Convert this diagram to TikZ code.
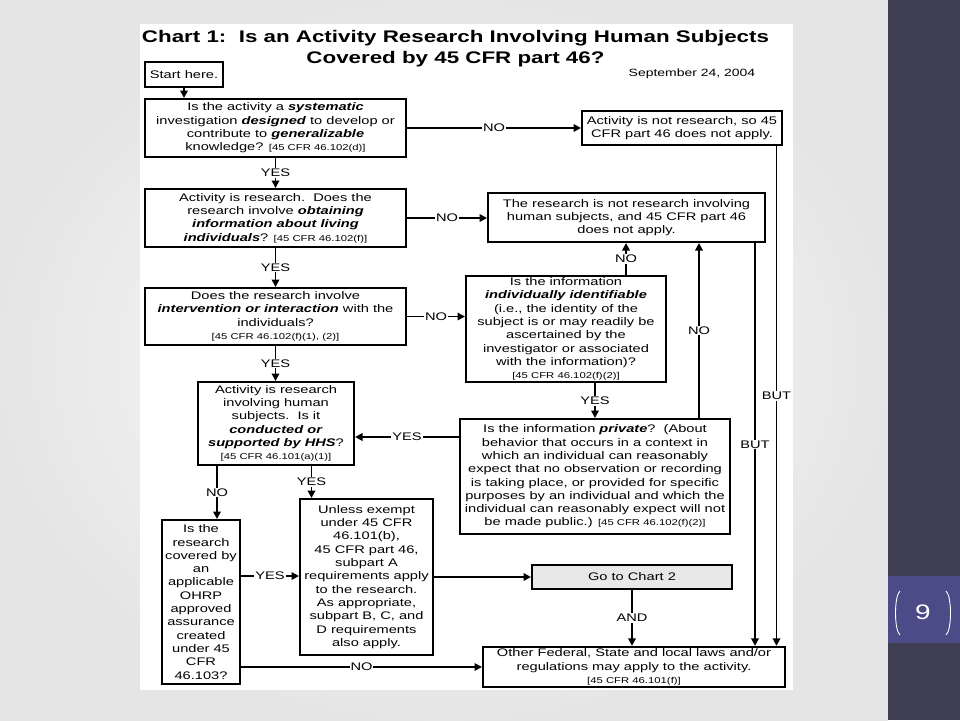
\documentclass[tikz,border=0pt]{standalone}
\usepackage{fontspec}
\setmainfont{Liberation Sans}[FakeStretch=1.33]
\usetikzlibrary{arrows.meta}
\newcommand{\emphb}[1]{\textbf{\textit{#1}}}
\newcommand{\cfr}[1]{{\fontsize{8.5}{10}\selectfont[#1]}}
\definecolor{sidedark}{HTML}{3E3D51}
\definecolor{sideblue}{HTML}{4B4B88}

\begin{document}
\begin{tikzpicture}[x=1pt,y=-1pt,
  box/.style={draw, line width=2pt, align=center, inner sep=2pt,
    font=\fontsize{11}{13.3}\selectfont},
  lab/.style={fill=white, inner sep=1pt, font=\fontsize{11}{13}\selectfont},
  arr/.style={line width=1.8pt, -{Triangle[length=7.5pt,width=7.5pt]}}]
  \useasboundingbox (0,0) rectangle (960,720);

  % Slide background and side bar
  \shade[inner color=white, outer color=gray!20] (0,0) rectangle (888,720);
  \fill[sidedark] (888,0) rectangle (960,720);
  \fill[sideblue] (888,576) rectangle (960,643);
  \draw[white, line width=0.9pt] (900,591) .. controls (894,596) and (894,630) .. (900,635);
  \draw[white, line width=0.9pt] (946,591) .. controls (952,596) and (952,630) .. (946,635);
  \node[text=white, font=\fontsize{21}{24}\selectfont] (page) at (923,612) {9};

  % Chart sheet
  \fill[white] (140,24) rectangle (793,690);
  \node[font=\fontsize{16.8}{20.5}\selectfont\bfseries, align=center] (title) at (455.5,48.5)
    {Chart 1:\ \ Is an Activity Research Involving Human Subjects\\Covered by 45 CFR part 46?};
  \node[font=\fontsize{10.5}{12}\selectfont] (date) at (692,73.5) {September 24, 2004};

  % Boxes
  \node[box, minimum width=78pt, minimum height=25pt] (start) at (184,74.5) {Start here.};
  \node[box, minimum width=261pt, minimum height=58pt] (q1) at (275.5,128)
    {Is the activity a \emphb{systematic}\\investigation \emphb{designed} to develop or\\
     contribute to \emphb{generalizable}\\knowledge? \cfr{45 CFR 46.102(d)}};
  \node[box, minimum width=200pt, minimum height=34pt] (notres) at (682,128)
    {Activity is not research, so 45\\CFR part 46 does not apply.};
  \node[box, minimum width=261pt, minimum height=58pt] (q2) at (275.5,218)
    {Activity is research.\ \ Does the\\research involve \emphb{obtaining}\\
     \emphb{information about living}\\\emphb{individuals}? \cfr{45 CFR 46.102(f)}};
  \node[box, minimum width=277pt, minimum height=49pt] (noths) at (626.5,217.5)
    {The research is not research involving\\human subjects, and 45 CFR part 46\\does not apply.};
  \node[box, minimum width=261pt, minimum height=57pt] (q3) at (275.5,316.5)
    {Does the research involve\\\emphb{intervention or interaction} with the\\individuals?\\
     \cfr{45 CFR 46.102(f)(1), (2)}};
  \node[box, minimum width=200pt, minimum height=106pt] (ident) at (566,329)
    {Is the information\\\emphb{individually identifiable}\\(i.e., the identity of the\\
     subject is or may readily be\\ascertained by the\\investigator or associated\\
     with the information)?\\\cfr{45 CFR 46.102(f)(2)}};
  \node[box, minimum width=156pt, minimum height=83pt] (hhs) at (276,423.5)
    {Activity is research\\involving human\\subjects.\ \ Is it\\\emphb{conducted or}\\
     \emphb{supported by HHS}?\\\cfr{45 CFR 46.101(a)(1)}};
  \node[box, minimum width=270pt, minimum height=115pt] (priv) at (595,476.5)
    {Is the information \emphb{private}?\ \ (About\\behavior that occurs in a context in\\
     which an individual can reasonably\\expect that no observation or recording\\
     is taking place, or provided for specific\\purposes by an individual and which the\\
     individual can reasonably expect will not\\be made public.) \cfr{45 CFR 46.102(f)(2)}};
  \node[box, minimum width=78pt, minimum height=164pt] (ohrp) at (201,602)
    {Is the\\research\\covered by\\an\\applicable\\OHRP\\approved\\assurance\\created\\
     under 45\\CFR\\46.103?};
  \node[box, minimum width=133pt, minimum height=156pt] (unless) at (366.5,577)
    {Unless exempt\\under 45 CFR\\46.101(b),\\45 CFR part 46,\\subpart A\\
     requirements apply\\to the research.\\As appropriate,\\subpart B, C, and\\
     D requirements\\also apply.};
  \node[box, fill=gray!18, minimum width=200pt, minimum height=24pt] (chart2) at (632,577)
    {Go to Chart 2};
  \node[box, minimum width=302pt, minimum height=40pt] (other) at (634,667)
    {Other Federal, State and local laws and/or\\regulations may apply to the activity.\\
     \cfr{45 CFR 46.101(f)}};

  % Main YES path
  \draw[arr] (start.south) -- (start.south |- q1.north);
  \draw[arr] (q1.south) -- node[lab] {YES} (q2.north);
  \draw[arr] (q2.south) -- node[lab] {YES} (q3.north);
  \draw[arr] (q3.south) -- node[lab] {YES} (q3.south |- hhs.north);

  % NO branches to the right
  \draw[arr] (q1.east) -- node[lab] {NO} (q1.east -| notres.west);
  \draw[arr] (q2.east) -- node[lab] {NO} (q2.east -| noths.west);
  \draw[arr] (q3.east) -- node[lab] {NO} (q3.east -| ident.west);
  \draw[arr] ([xshift=60pt]ident.north) -- node[lab] {NO} ([xshift=60pt]ident.north |- noths.south);
  \draw[arr] (ident.south -| priv.north) -- node[lab] {YES} (priv.north);
  \draw[arr] ([xshift=104pt]priv.north) -- node[lab] {NO} ([xshift=104pt]priv.north |- noths.south);
  \draw[arr] ([yshift=39.5pt]priv.west) -- node[lab] {YES} ([yshift=39.5pt]priv.west -| hhs.east);

  % Lower part
  \draw[arr] ([xshift=-59pt]hhs.south) -- node[lab] {NO} ([xshift=-59pt]hhs.south |- ohrp.north);
  \draw[arr] ([xshift=35.5pt]hhs.south) -- node[lab] {YES} ([xshift=35.5pt]hhs.south |- unless.north);
  \draw[arr] ([yshift=26pt]ohrp.east) -- node[lab] {YES} ([yshift=26pt]ohrp.east -| unless.west);
  \draw[arr] (unless.east) -- (unless.east -| chart2.west);
  \draw[arr] (chart2.south) -- node[lab] {AND} (chart2.south |- other.north);
  \draw[arr] ([yshift=-65pt]ohrp.east) -- node[lab] {NO} ([yshift=-65pt]ohrp.east -| other.west);

  % BUT lines down the right side
  \draw[arr] ([xshift=94.5pt]notres.south) -- node[lab] {BUT} ([xshift=94.5pt]notres.south |- other.north);
  \draw[arr] ([xshift=128.5pt]noths.south) -- node[lab] {BUT} ([xshift=128.5pt]noths.south |- other.north);
\end{tikzpicture}
\end{document}
